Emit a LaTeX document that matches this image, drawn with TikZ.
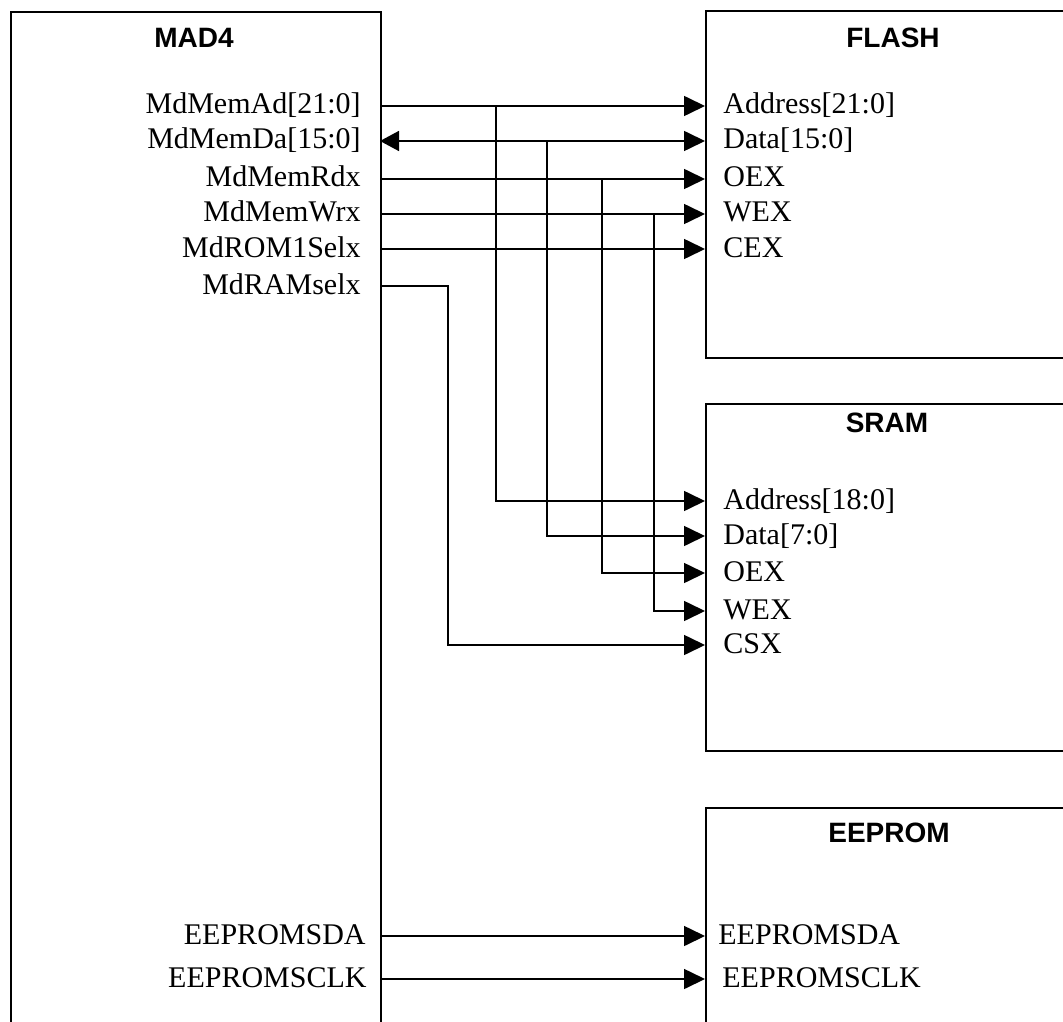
\documentclass[tikz,border=0pt]{standalone}
\usepackage{fontspec}
\setmainfont{Liberation Serif}
\newfontfamily\titlefont{Liberation Sans}
\usetikzlibrary{arrows.meta}
\begin{document}
\begin{tikzpicture}[x=0.5pt,y=-0.5pt,
  box/.style={draw,line width=1pt,rectangle,inner sep=0pt,anchor=north west},
  wire/.style={line width=0.8pt},
  tip/.style={-{Triangle[length=10.5pt,width=10pt]}},
  both/.style={{Triangle[length=9.5pt,width=10pt]}-{Triangle[length=10.5pt,width=10pt]}},
  title/.style={font=\titlefont\bfseries\fontsize{14}{16}\selectfont,inner sep=0pt},
  lpin/.style={font=\fontsize{15}{18}\selectfont,inner sep=0pt,anchor=base east},
  rpin/.style={font=\fontsize{15}{18}\selectfont,inner sep=0pt,anchor=base west}]
\useasboundingbox (0,0) rectangle (1063,1021);
\clip (0,0) rectangle (1063,1021);
% boxes
\node[box,minimum width=185pt,minimum height=514.5pt] (mad) at (10,11) {};
\node[box,minimum width=185pt,minimum height=173.5pt] (flash) at (705,10) {};
\node[box,minimum width=185pt,minimum height=173.5pt] (sram) at (705,403) {};
\node[box,minimum width=185pt,minimum height=116.5pt] (eeprom) at (705,807) {};
% titles
\node[title] (madT) at (194,38) {MAD4};
\node[title] (flashT) at (893,38) {FLASH};
\node[title] (sramT) at (887,423) {SRAM};
\node[title] (eepromT) at (889,833) {EEPROM};
% pins on MAD4
\coordinate (mAd) at (380,106);
\coordinate (mDa) at (380,141);
\coordinate (mRd) at (380,179);
\coordinate (mWr) at (380,214);
\coordinate (mRom) at (380,249);
\coordinate (mRam) at (380,286);
\coordinate (mSda) at (380,936);
\coordinate (mScl) at (380,979);
% pins on FLASH
\coordinate (fAd) at (705,106);
\coordinate (fDa) at (705,141);
\coordinate (fOe) at (705,179);
\coordinate (fWe) at (705,214);
\coordinate (fCe) at (705,249);
% pins on SRAM
\coordinate (sAd) at (705,501);
\coordinate (sDa) at (705,536);
\coordinate (sOe) at (705,573);
\coordinate (sWe) at (705,611);
\coordinate (sCs) at (705,645);
% pins on EEPROM
\coordinate (eSda) at (705,936);
\coordinate (eScl) at (705,979);
% junctions
\coordinate (jAd) at (496,106);
\coordinate (jDa) at (547,141);
\coordinate (jRd) at (602,179);
\coordinate (jWr) at (654,214);
\coordinate (jRam) at (448,286);
% labels MAD4
\node[lpin] (lAd) at (361,114) {MdMemAd[21:0]};
\node[lpin] (lDa) at (361,149) {MdMemDa[15:0]};
\node[lpin] (lRd) at (361,187) {MdMemRdx};
\node[lpin] (lWr) at (361,222) {MdMemWrx};
\node[lpin] (lRom) at (361,257) {MdROM1Selx};
\node[lpin] (lRam) at (361,294) {MdRAMselx};
\node[lpin] (lSda) at (366,944) {EEPROMSDA};
\node[lpin] (lScl) at (367,987) {EEPROMSCLK};
% labels FLASH
\node[rpin] (rfAd) at (723,114) {Address[21:0]};
\node[rpin] (rfDa) at (723,149) {Data[15:0]};
\node[rpin] (rfOe) at (723,187) {OEX};
\node[rpin] (rfWe) at (723,222) {WEX};
\node[rpin] (rfCe) at (723,257) {CEX};
% labels SRAM
\node[rpin] (rsAd) at (723,509) {Address[18:0]};
\node[rpin] (rsDa) at (723,544) {Data[7:0]};
\node[rpin] (rsOe) at (723,581) {OEX};
\node[rpin] (rsWe) at (723,619) {WEX};
\node[rpin] (rsCs) at (723,653) {CSX};
% labels EEPROM
\node[rpin] (reSda) at (718,944) {EEPROMSDA};
\node[rpin] (reScl) at (722,987) {EEPROMSCLK};
% wires
\draw[wire,tip] (mAd) -- (fAd);
\draw[wire,both] (mDa) -- (fDa);
\draw[wire,tip] (mRd) -- (fOe);
\draw[wire,tip] (mWr) -- (fWe);
\draw[wire,tip] (mRom) -- (fCe);
\draw[wire,tip] (jAd) |- (sAd);
\draw[wire,tip] (jDa) |- (sDa);
\draw[wire,tip] (jRd) |- (sOe);
\draw[wire,tip] (jWr) |- (sWe);
\draw[wire,tip] (mRam) -- (jRam) |- (sCs);
\draw[wire,tip] (mSda) -- (eSda);
\draw[wire,tip] (mScl) -- (eScl);
\end{tikzpicture}
\end{document}
